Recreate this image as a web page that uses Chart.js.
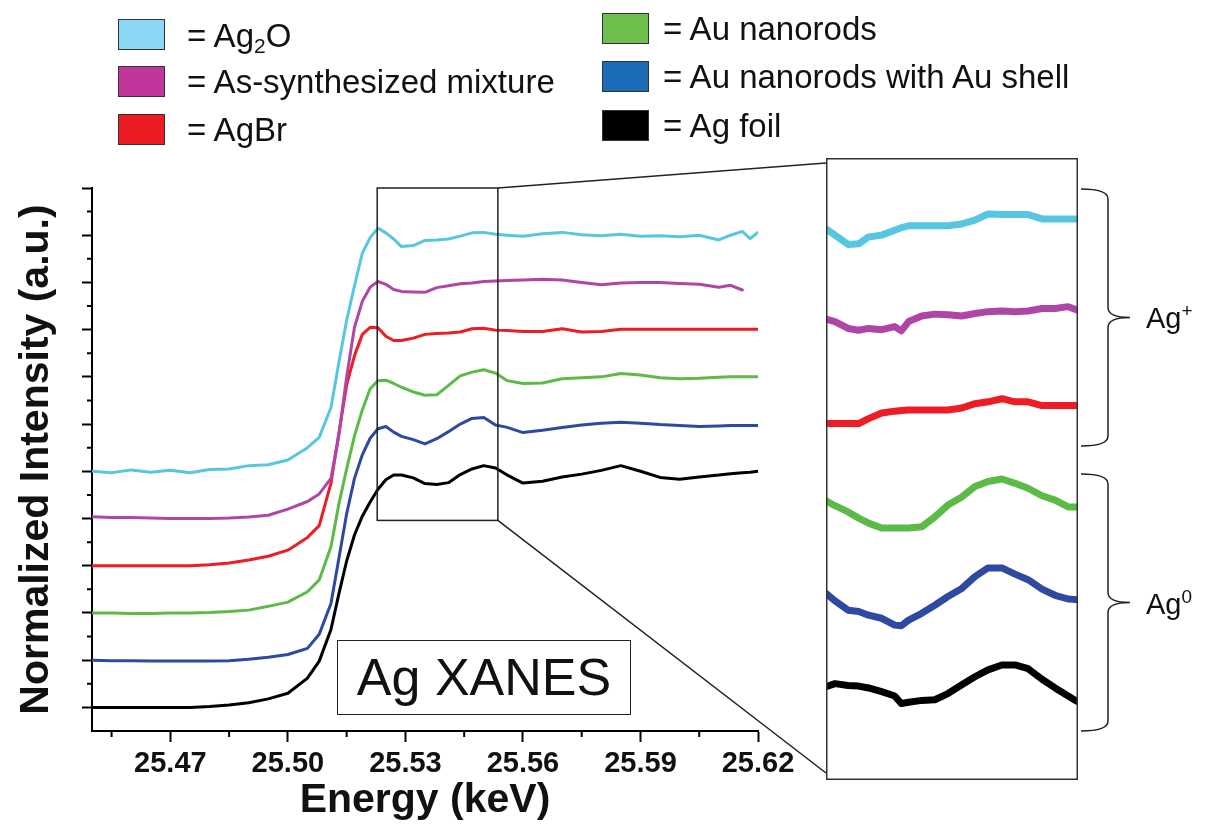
<!DOCTYPE html>
<html>
<head>
<meta charset="utf-8">
<script src="https://cdn.jsdelivr.net/npm/chart.js@4.4.0/dist/chart.umd.min.js"></script>
<style>
  body { margin: 0; width: 1205px; height: 829px; position: relative; overflow: hidden; background: #fff;
         font-family: "Liberation Sans", Arial, sans-serif; color: #111; }
  canvas { position: absolute; }
  #main { left: 0; top: 0; }
  #inset { left: 826px; top: 158px; }
  .swatch { position: absolute; width: 47px; height: 31px; box-sizing: border-box; border: 1.5px solid #333; }
  .key { position: absolute; font-size: 33px; line-height: 33px; white-space: nowrap; }
  .key sub { font-size: 21px; vertical-align: -6px; line-height: 0; }
  #xanes { position: absolute; left: 337px; top: 640px; width: 294px; height: 75px; box-sizing: border-box;
           border: 1.5px solid #222; font-size: 52px; line-height: 72px; text-align: center; }
  .state { position: absolute; left: 1146px; font-size: 29px; line-height: 29px; }
  .state sup { font-size: 19px; vertical-align: 11px; line-height: 0; }
</style>
</head>
<body>
<canvas id="main" width="1205" height="829"></canvas>
<canvas id="inset" width="252" height="622"></canvas>

<div class="swatch" style="left:118px;top:19px;background:#8dd7f6"></div>
<div class="key" style="left:187px;top:19px">= Ag<sub>2</sub>O</div>
<div class="swatch" style="left:118px;top:66px;background:#c1369b"></div>
<div class="key" style="left:187px;top:65px">= As-synthesized mixture</div>
<div class="swatch" style="left:118px;top:114px;background:#ed1c24"></div>
<div class="key" style="left:187px;top:113px">= AgBr</div>

<div class="swatch" style="left:602px;top:13px;background:#6cbf4a"></div>
<div class="key" style="left:663px;top:12px">= Au nanorods</div>
<div class="swatch" style="left:602px;top:61px;background:#1b6bb8"></div>
<div class="key" style="left:663px;top:60px">= Au nanorods with Au shell</div>
<div class="swatch" style="left:602px;top:110px;background:#000"></div>
<div class="key" style="left:663px;top:109px">= Ag foil</div>

<div id="xanes">Ag XANES</div>
<div class="state" style="top:304px">Ag<sup>+</sup></div>
<div class="state" style="top:590px">Ag<sup>0</sup></div>

<script>
// Ag K-edge XANES, normalized and stacked (offset 1 per sample)
const energy = [25.450, 25.455, 25.460, 25.465, 25.470, 25.475, 25.480, 25.485, 25.490, 25.495,
                25.500, 25.505, 25.508, 25.511, 25.513, 25.515, 25.517, 25.519, 25.521, 25.523,
                25.525, 25.527, 25.529, 25.532, 25.535, 25.538, 25.541, 25.544, 25.547, 25.550,
                25.553, 25.556, 25.560, 25.565, 25.570, 25.575, 25.580, 25.585, 25.590, 25.595,
                25.600, 25.605, 25.610, 25.613, 25.616, 25.618, 25.620];

const ag2o = [5.00, 4.97, 5.03, 4.98, 5.02, 4.97, 5.04, 5.05, 5.12, 5.14,
              5.24, 5.50, 5.72, 6.35, 7.30, 8.20, 8.93, 9.62, 9.95, 10.15,
              10.05, 9.92, 9.76, 9.78, 9.89, 9.90, 9.92, 9.98, 10.05, 10.06,
              10.02, 10.00, 9.98, 10.03, 10.06, 10.01, 9.99, 10.02, 9.98, 9.99,
              9.97, 10.00, 9.90, 10.00, 10.08, 9.93, 10.06];
const mixture = [4.04, 4.02, 4.02, 4.01, 4.00, 4.00, 4.00, 4.01, 4.03, 4.07,
                 4.20, 4.36, 4.52, 4.85, 5.75, 7.00, 8.05, 8.60, 8.90, 9.02,
                 8.96, 8.85, 8.81, 8.80, 8.79, 8.89, 8.93, 8.97, 8.99, 9.02,
                 9.03, 9.04, 9.05, 9.07, 9.05, 9.00, 8.95, 8.99, 9.00, 9.00,
                 8.98, 8.96, 8.90, 8.94, 8.84, null, null];
const agbr = [3.00, 3.00, 3.00, 3.00, 3.00, 3.00, 3.02, 3.06, 3.12, 3.20,
              3.33, 3.60, 3.85, 4.75, 5.80, 6.83, 7.45, 7.90, 8.05, 8.04,
              7.86, 7.77, 7.77, 7.82, 7.90, 7.92, 7.93, 7.95, 8.02, 8.03,
              7.99, 7.98, 7.96, 7.96, 8.02, 7.95, 7.96, 8.01, 8.01, 8.01,
              8.01, 8.01, 8.01, 8.01, 8.01, 8.01, 8.01];
const auRods = [2.00, 2.00, 1.99, 1.99, 2.00, 2.00, 2.01, 2.03, 2.06, 2.14,
                2.23, 2.45, 2.70, 3.40, 4.30, 5.05, 5.75, 6.30, 6.75, 6.92,
                6.93, 6.86, 6.78, 6.68, 6.61, 6.62, 6.82, 7.02, 7.10, 7.15,
                7.08, 6.92, 6.86, 6.87, 6.96, 6.98, 7.00, 7.07, 7.04, 6.98,
                6.96, 6.97, 6.99, 7.00, 7.00, 7.00, 7.00];
const auShell = [1.00, 0.99, 0.99, 0.98, 0.98, 0.98, 0.98, 0.99, 1.02, 1.06,
                 1.12, 1.25, 1.55, 2.20, 3.15, 4.10, 4.85, 5.35, 5.70, 5.90,
                 5.95, 5.83, 5.74, 5.67, 5.58, 5.69, 5.84, 6.00, 6.12, 6.14,
                 5.98, 5.93, 5.82, 5.87, 5.93, 5.98, 6.02, 6.04, 6.02, 5.99,
                 5.97, 5.95, 5.96, 5.97, 5.97, 5.97, 5.97];
const agFoil = [0.00, 0.00, 0.00, 0.00, 0.00, 0.00, 0.02, 0.05, 0.10, 0.18,
                0.30, 0.62, 0.98, 1.65, 2.40, 3.10, 3.65, 4.05, 4.35, 4.62,
                4.82, 4.92, 4.92, 4.86, 4.74, 4.72, 4.76, 4.93, 5.05, 5.12,
                5.07, 4.92, 4.75, 4.79, 4.88, 4.94, 5.02, 5.12, 5.00, 4.87,
                4.83, 4.88, 4.92, 4.95, 4.97, 4.98, 5.00];

// zoomed window (inset), re-plotted with its own offsets
const insetEnergy = [25.5228, 25.5239, 25.5255, 25.5268, 25.5280, 25.5296, 25.5312, 25.5320,
                     25.5329, 25.5345, 25.5361, 25.5377, 25.5394, 25.5410, 25.5426, 25.5443,
                     25.5459, 25.5475, 25.5492, 25.5508, 25.5524, 25.5534];
const insetAg2o = [88.6, 87.6, 86.1, 86.2, 87.3, 87.6, 88.4, 88.8, 89.1, 89.1, 89.1,
                   89.1, 89.4, 90.0, 91.0, 90.9, 90.9, 90.9, 90.2, 90.2, 90.2, 90.2];
const insetMixture = [74.1, 73.7, 72.6, 72.3, 72.6, 72.4, 72.9, 72.2, 73.7, 74.6, 74.9,
                      74.8, 74.6, 75.0, 75.3, 75.4, 75.3, 75.4, 75.8, 75.8, 76.1, 75.6];
const insetAgbr = [57.3, 57.3, 57.3, 57.3, 58.1, 59.0, 59.3, 59.4, 59.5, 59.5, 59.5,
                   59.5, 59.8, 60.5, 60.8, 61.3, 60.8, 60.8, 60.2, 60.2, 60.2, 60.2];
const insetAuRods = [44.9, 44.1, 43.1, 42.1, 41.3, 40.5, 40.5, 40.5, 40.5, 40.7, 42.3,
                     44.2, 45.5, 47.2, 48.0, 48.4, 47.7, 46.9, 45.7, 45.0, 43.9, 43.9];
const insetAuShell = [30.0, 28.8, 27.3, 27.1, 26.5, 26.0, 24.9, 24.8, 25.7, 26.8, 28.1,
                      29.5, 30.8, 32.7, 34.1, 34.1, 33.1, 32.2, 30.7, 29.7, 29.1, 29.0];
const insetAgFoil = [15.0, 15.5, 15.2, 15.1, 14.8, 14.2, 13.5, 12.3, 12.5, 12.8, 12.9,
                     13.9, 15.3, 16.6, 17.7, 18.5, 18.5, 17.9, 16.2, 14.8, 13.5, 12.7];

const xTickLabels = [25.47, 25.50, 25.53, 25.56, 25.59, 25.62];
const xMinorTicks = [25.455, 25.485, 25.515, 25.545, 25.575, 25.605];
const yMajorTicks = [0, 1, 2, 3, 4, 5, 6, 7, 8, 9, 10, 11];
const yMinorTicks = [0.5, 1.5, 2.5, 3.5, 4.5, 5.5, 6.5, 7.5, 8.5, 9.5, 10.5];
const zoomEnergy = [25.5228, 25.5536];
const zoomIntensity = [3.96, 11];

const lineColors = ["#57c6e0", "#b045a8", "#ee1c25", "#5cbb47", "#2e49a1", "#000000"];

function makeSets(xs, seriesList, width) {
    return seriesList.map((series, i) => ({
        data: xs.map((x, k) => ({ x: x, y: series[k] })),
        borderColor: lineColors[i],
        borderWidth: width,
        pointRadius: 0,
        tension: 0,
        borderJoinStyle: "round",
        borderCapStyle: "round"
    }));
}

function drawBrace(ctx, xLeft, xMid, xTip, yTop, yBot) {
    const yMid = (yTop + yBot) / 2;
    const r = 10;
    ctx.beginPath();
    ctx.moveTo(xLeft, yTop);
    ctx.quadraticCurveTo(xMid, yTop, xMid, yTop + r);
    ctx.lineTo(xMid, yMid - r);
    ctx.quadraticCurveTo(xMid, yMid, xTip, yMid);
    ctx.quadraticCurveTo(xMid, yMid, xMid, yMid + r);
    ctx.lineTo(xMid, yBot - r);
    ctx.quadraticCurveTo(xMid, yBot, xLeft, yBot);
    ctx.stroke();
}

// minor ticks, zoom window, connectors and braces
const overlayPlugin = {
    id: "overlay",
    afterDraw(chart) {
        const { ctx } = chart;
        const x = chart.scales.x;
        const y = chart.scales.y;
        ctx.save();
        ctx.strokeStyle = "#000";
        ctx.lineWidth = 2;
        ctx.beginPath();
        for (const v of xMinorTicks) {
            const px = x.getPixelForValue(v);
            ctx.moveTo(px, x.top);
            ctx.lineTo(px, x.top + 6);
        }
        for (const v of yMinorTicks) {
            const py = y.getPixelForValue(v);
            ctx.moveTo(y.right - 5, py);
            ctx.lineTo(y.right, py);
        }
        ctx.stroke();

        const bx1 = x.getPixelForValue(zoomEnergy[0]);
        const bx2 = x.getPixelForValue(zoomEnergy[1]);
        const by1 = y.getPixelForValue(zoomIntensity[1]);
        const by2 = y.getPixelForValue(zoomIntensity[0]);
        ctx.strokeStyle = "#222";
        ctx.lineWidth = 1.5;
        ctx.strokeRect(bx1, by1, bx2 - bx1, by2 - by1);
        ctx.beginPath();
        ctx.moveTo(bx2, by1);
        ctx.lineTo(826, 163);
        ctx.moveTo(bx2, by2);
        ctx.lineTo(826, 773);
        ctx.stroke();

        drawBrace(ctx, 1081, 1108, 1130, 189, 446);
        drawBrace(ctx, 1081, 1108, 1130, 474, 731);
        ctx.restore();
    }
};

const mainChart = new Chart(document.getElementById("main"), {
    type: "line",
    data: { datasets: makeSets(energy, [ag2o, mixture, agbr, auRods, auShell, agFoil], 3) },
    options: {
        responsive: false,
        animation: false,
        layout: { padding: { top: 188, right: 447, bottom: 0, left: 0 } },
        plugins: { legend: { display: false }, tooltip: { enabled: false } },
        scales: {
            x: {
                type: "linear",
                min: 25.45,
                max: 25.62,
                afterBuildTicks: (scale) => { scale.ticks = xTickLabels.map(v => ({ value: v })); },
                afterFit: (scale) => { scale.height = 98; },
                ticks: {
                    autoSkip: false,
                    maxRotation: 0,
                    padding: 5,
                    color: "#111",
                    font: { family: "Liberation Sans", size: 29, weight: "bold" },
                    callback: (v) => Number(v).toFixed(2)
                },
                grid: { drawOnChartArea: false, drawTicks: true, tickLength: 11, tickWidth: 2, tickColor: "#000" },
                border: { color: "#000", width: 2 },
                title: {
                    display: true,
                    text: "Energy (keV)",
                    color: "#111",
                    padding: { top: 0, bottom: 4 },
                    font: { family: "Liberation Sans", size: 41, weight: "bold" }
                }
            },
            y: {
                type: "linear",
                min: -0.5,
                max: 11,
                afterBuildTicks: (scale) => { scale.ticks = yMajorTicks.map(v => ({ value: v })); },
                afterFit: (scale) => { scale.width = 92; },
                ticks: { display: false },
                grid: { drawOnChartArea: false, drawTicks: true, tickLength: 10, tickWidth: 2, tickColor: "#000" },
                border: { color: "#000", width: 2 },
                title: {
                    display: true,
                    text: "Normalized Intensity (a.u.)",
                    color: "#111",
                    padding: { top: 12, bottom: 0 },
                    font: { family: "Liberation Sans", size: 41, weight: "bold" }
                }
            }
        }
    },
    plugins: [overlayPlugin]
});

const insetFrame = {
    id: "insetFrame",
    afterDraw(chart) {
        const { ctx, width, height } = chart;
        ctx.save();
        ctx.strokeStyle = "#333";
        ctx.lineWidth = 1.5;
        ctx.strokeRect(0.75, 0.75, width - 1.5, height - 1.5);
        ctx.restore();
    }
};

const insetChart = new Chart(document.getElementById("inset"), {
    type: "line",
    data: {
        datasets: makeSets(insetEnergy,
            [insetAg2o, insetMixture, insetAgbr, insetAuRods, insetAuShell, insetAgFoil], 7)
    },
    options: {
        responsive: false,
        animation: false,
        layout: { padding: 0 },
        plugins: { legend: { display: false }, tooltip: { enabled: false } },
        scales: {
            x: { type: "linear", display: false, min: zoomEnergy[0], max: zoomEnergy[1] },
            y: { type: "linear", display: false, min: 0, max: 100 }
        }
    },
    plugins: [insetFrame]
});
</script>
</body>
</html>
